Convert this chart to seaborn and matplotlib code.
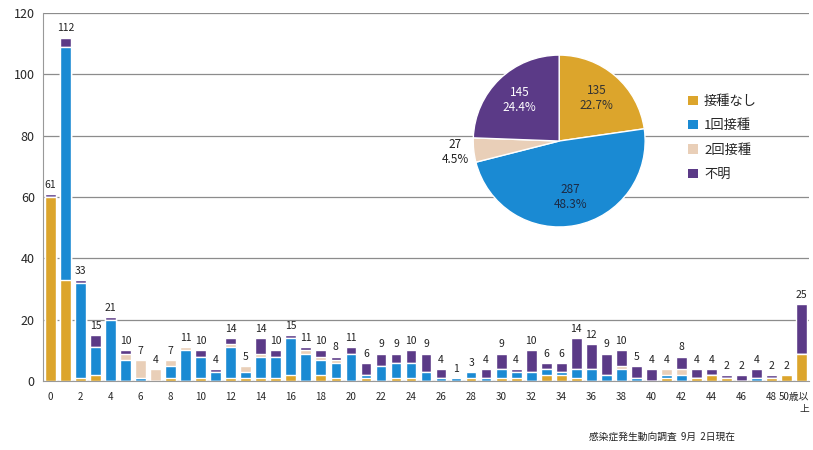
import numpy as np
import pandas as pd
import seaborn as sns
import matplotlib.pyplot as plt
import matplotlib.transforms as mtransforms
from matplotlib.patches import Patch

# age groups 0..49 and 50+
ages = [str(i) for i in range(50)] + ["50歳以\n上"]

# counts per vaccination status
none_ = [60, 33, 1, 2, 0, 0, 0, 0, 1, 0, 1, 0, 1, 1, 1, 1, 2, 0, 2, 1,
         0, 1, 0, 1, 1, 0, 0, 0, 1, 0, 1, 1, 0, 2, 2, 1, 0, 0, 0, 0,
         0, 1, 0, 1, 2, 1, 0, 0, 1, 2, 9]
one_ = [0, 76, 31, 9, 20, 7, 1, 0, 4, 10, 7, 3, 10, 2, 7, 7, 12, 9, 5, 5,
        9, 1, 5, 5, 5, 3, 1, 1, 2, 1, 3, 2, 3, 2, 1, 3, 4, 2, 4, 1,
        0, 1, 2, 0, 0, 0, 0, 1, 0, 0, 0]
two_ = [0, 0, 0, 0, 0, 2, 6, 4, 2, 1, 0, 0, 1, 2, 1, 0, 0, 1, 1, 1,
        0, 0, 0, 0, 0, 0, 0, 0, 0, 0, 0, 0, 0, 0, 0, 0, 0, 0, 1, 0,
        0, 2, 2, 0, 0, 0, 0, 0, 0, 0, 0]
unknown = [1, 3, 1, 4, 1, 1, 0, 0, 0, 0, 2, 1, 2, 0, 5, 2, 1, 1, 2, 1,
           2, 4, 4, 3, 4, 6, 3, 0, 0, 3, 5, 1, 7, 2, 3, 10, 8, 7, 5, 4,
           4, 0, 4, 3, 2, 1, 2, 3, 1, 0, 16]

status_names = ["接種なし", "1回接種", "2回接種", "不明"]
pie_counts = [135, 287, 27, 145]
colors = ["#DCA52C", "#1A8AD3", "#E9CFB8", "#5B3A87"]

sns.set_style("white")
plt.rcParams['font.family'] = ['Noto Sans CJK JP', 'DejaVu Sans']

df = pd.DataFrame({"age": ages, "none": none_, "one": one_,
                   "two": two_, "unknown": unknown})
df["c1"] = df["none"]
df["c2"] = df["c1"] + df["one"]
df["c3"] = df["c2"] + df["two"]
df["total"] = df["c3"] + df["unknown"]

fig = plt.figure(figsize=(8.13, 4.5), dpi=100)
ax = fig.add_axes([0.053, 0.153, 0.942, 0.818])

# stacked bars: draw cumulative totals from the top layer down
for col, c in zip(["total", "c3", "c2", "c1"], colors[::-1]):
    sns.barplot(data=df, x="age", y=col, order=ages, color=c,
                width=0.72, saturation=1, ax=ax)

for i, t in enumerate(df["total"]):
    ax.annotate(str(t), (i, t), xytext=(0, 3), textcoords="offset points",
                ha="center", va="bottom", fontsize=7.5, color="#222")

ax.set_ylim(0, 120)
ax.set_xlim(-0.5, len(ages) - 0.5)
ax.set_yticks(range(0, 121, 20))
ax.set_xticks(range(len(ages)))
ax.set_xticklabels([a if i % 2 == 0 else "" for i, a in enumerate(ages)],
                   fontsize=7)
ax.tick_params(axis="x", length=2, pad=6)
ax.tick_params(axis="y", labelsize=9, length=0, pad=6)
# keep the last (two-line) label inside the figure
last = ax.get_xticklabels()[-1]
last.set_horizontalalignment("right")
last.set_transform(last.get_transform() +
                   mtransforms.ScaledTranslation(8 / 100, 0, fig.dpi_scale_trans))
ax.set_xlabel("")
ax.set_ylabel("")
ax.yaxis.grid(True, color="#8c8c8c", lw=0.9)
ax.set_axisbelow(True)
for s in ["top", "right"]:
    ax.spines[s].set_visible(False)
ax.spines["left"].set_color("#999")
ax.spines["bottom"].set_color("#999")

# inset pie of totals
pax = fig.add_axes([0.582, 0.4956, 0.2116, 0.382])
total_all = sum(pie_counts)
wedges, texts, autotexts = pax.pie(
    pie_counts, colors=colors, startangle=90, counterclock=False,
    autopct=lambda p: f"{int(round(p * total_all / 100))}\n{p:.1f}%",
    pctdistance=0.66, textprops={"fontsize": 8.5})
pax.set_xlim(-1, 1)
pax.set_ylim(-1, 1)
pax.set_aspect("equal")
autotexts[0].set_color("#333")
autotexts[1].set_color("#1c2a44")
autotexts[3].set_color("white")
# small slice label goes outside
x, y = autotexts[2].get_position()
r = np.hypot(x, y)
autotexts[2].set_position((x / r * 1.22, y / r * 1.22))
autotexts[2].set_color("#222")

handles = [Patch(facecolor=c, edgecolor="none") for c in colors]
fig.legend(handles, status_names, loc="upper left",
           bbox_to_anchor=(0.832, 0.815), frameon=False, fontsize=9.5,
           handlelength=0.7, handleheight=0.7, handletextpad=0.5,
           labelspacing=0.85)

fig.text(0.725, 0.022, "感染症発生動向調査  9月  2日現在", fontsize=7, color="#222")

fig.savefig("out.png", dpi=100, facecolor="white")
